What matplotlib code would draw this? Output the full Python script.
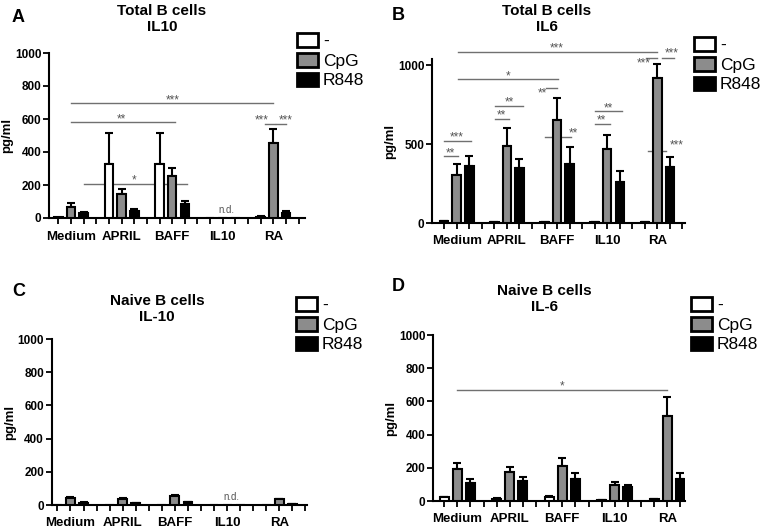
import numpy as np
import matplotlib
matplotlib.use("Agg")
import matplotlib.pyplot as plt
from matplotlib.patches import Patch


plt.rcParams["font.family"] = ["Liberation Sans", "DejaVu Sans"]

groups = ["Medium", "APRIL", "BAFF", "IL10", "RA"]
stims = ["-", "CpG", "R848"]
colors = ["white", "#8c8c8c", "black"]

# mean and upper error per group, order: -, CpG, R848
a_mean = [[4, 66, 30], [326, 145, 44], [326, 255, 85], [0, 0, 0], [8, 457, 30]]
a_err = [[0, 22, 8], [191, 30, 10], [187, 51, 20], [0, 0, 0], [2, 84, 10]]
b_mean = [[10, 305, 358], [5, 488, 347], [5, 653, 373], [8, 469, 261], [5, 920, 352]]
b_err = [[2, 68, 63], [1, 112, 57], [1, 136, 111], [1, 89, 70], [1, 86, 65]]
c_mean = [[0, 44, 14], [0, 38, 12], [0, 54, 18], [0, 0, 0], [0, 34, 8]]
c_err = [[0, 4, 2], [0, 4, 2], [0, 4, 2], [0, 0, 0], [0, 4, 1]]
d_mean = [[22, 191, 108], [14, 177, 121], [24, 211, 131], [8, 97, 85], [14, 513, 135]]
d_err = [[2, 40, 27], [2, 28, 26], [4, 47, 40], [1, 18, 10], [1, 115, 36]]

# significance: (x1, x2, line y, label, label x, label y)
a_sig = [(1, 17, 694, "***", 9, 712), (1, 9.2, 583, "**", 5, 600),
         (2, 10.2, 207, "*", 6, 225), (16.3, 17.1, 567, "", 0, 0),
         (17.2, 18.0, 567, "", 0, 0), (0, 0, 0, "***", 16.1, 590),
         (0, 0, 0, "***", 18.0, 590)]
b_sig = [(1.1, 17.0, 1084, "***", 9, 1104), (1.1, 9.1, 909, "*", 5.1, 930),
         (0, 1.1, 421, "**", 0.5, 440), (0, 2.1, 522, "***", 1.0, 542),
         (4.07, 5.2, 659, "**", 4.6, 678), (4.07, 6.25, 741, "**", 5.2, 760),
         (8.1, 9.0, 853, "**", 7.8, 820), (8.0, 10.1, 547, "**", 10.3, 565),
         (12, 13.2, 627, "**", 12.5, 646), (12, 14.2, 709, "**", 13.1, 727),
         (16.1, 17.0, 1044, "***", 15.9, 1010), (17.4, 18.3, 1044, "***", 18.1, 1076),
         (16.25, 17.7, 457, "***", 18.5, 490)]
d_sig = [(1, 17, 670, "*", 9, 690)]

fig = plt.figure(figsize=(7.6, 5.28), dpi=100)
W, H = 760, 528


def add_axes(x0, x1, y0, ytop):
    return fig.add_axes([x0 / W, (H - y0) / H, (x1 - x0) / W, (y0 - ytop) / H])


def draw_panel(ax, mean, err, xlim, ylim, yticks, sig, nd=False):
    mean = np.array(mean)
    err = np.array(err)
    for j in range(3):
        xs = np.arange(len(groups)) * 4 + j
        ax.bar(xs, mean[:, j], width=0.68, color=colors[j], edgecolor="black",
               linewidth=1.5, zorder=3)
        keep = err[:, j] > 0
        ax.errorbar(xs[keep], mean[keep, j], yerr=[np.zeros(keep.sum()), err[keep, j]],
                    fmt="none", ecolor="black", elinewidth=1.5, capsize=2.7,
                    capthick=1.5, zorder=2)
    ax.set_xlim(*xlim)
    ax.set_ylim(*ylim)
    ax.set_yticks(yticks)
    ax.set_xticks(np.arange(len(groups)) * 4 + 1, groups)
    ax.set_xticks(range(20) if xlim[1] > 19 else range(19), minor=True)
    ax.tick_params(axis="x", which="both", length=4, width=1.3)
    ax.tick_params(axis="x", which="major", pad=5, labelsize=9.5)
    ax.tick_params(axis="y", length=4, width=1.3, labelsize=8.5, pad=1.5)
    for lab in ax.get_xticklabels() + ax.get_yticklabels():
        lab.set_fontweight("bold")
    for s in ["top", "right"]:
        ax.spines[s].set_visible(False)
    for s in ["left", "bottom"]:
        ax.spines[s].set_linewidth(1.5)
    ax.set_ylabel("pg/ml", fontsize=9.5, fontweight="bold")
    ax.yaxis.set_label_coords(-36 / (ax.get_position().width * W), 0.5)
    for x1, x2, y, lab, lx, ly in sig:
        if x2 > x1:
            ax.plot([x1, x2], [y, y], color="#707070", lw=1, clip_on=False)
        if lab:
            ax.text(lx, ly, lab, ha="center", va="center", fontsize=8.5,
                    color="#555555", clip_on=False)
    if nd:
        ax.text(13.3, 50, "n.d.", ha="center", va="center", fontsize=7,
                color="#555555")


def draw_legend(x, ytop):
    handles = [Patch(facecolor=c, edgecolor="black", linewidth=2) for c in colors]
    fig.legend(handles, stims, loc="upper left", bbox_to_anchor=(x / W, (H - ytop) / H),
               frameon=False, fontsize=12.5, handlelength=1.2, handleheight=0.85,
               handletextpad=0.3, labelspacing=0.22, borderpad=0, borderaxespad=0)


axA = add_axes(49, 305, 218, 53)
draw_panel(axA, a_mean, a_err, (-0.74, 19.5), (0, 1000), [0, 200, 400, 600, 800, 1000],
           a_sig, nd=True)
axB = add_axes(432, 685, 223, 59)
draw_panel(axB, b_mean, b_err, (-0.97, 19.2), (0, 1038), [0, 500, 1000], b_sig)
axC = add_axes(51.7, 306.7, 505, 339)
draw_panel(axC, c_mean, c_err, (-0.44, 19.1), (0, 1000), [0, 200, 400, 600, 800, 1000],
           [], nd=True)
axD = add_axes(433, 685, 501, 335)
draw_panel(axD, d_mean, d_err, (-0.85, 18.35), (0, 1000), [0, 200, 400, 600, 800, 1000],
           d_sig)

titles = [("Total B cells\nIL10", 162, 4), ("Total B cells\nIL6", 547, 4),
          ("Naive B cells\nIL-10", 157, 294), ("Naive B cells\nIL-6", 544, 284)]
for t, x, y in titles:
    fig.text(x / W, (H - y) / H, t, ha="center", va="top", fontsize=11,
             fontweight="bold", linespacing=1.15)

letters = [("A", 12, 9), ("B", 392, 7), ("C", 12, 283), ("D", 392, 278)]
for t, x, y in letters:
    fig.text(x / W, (H - y) / H, t, ha="left", va="top", fontsize=13, fontweight="bold")

draw_legend(297, 33)
draw_legend(694, 37)
draw_legend(296, 297)
draw_legend(691, 297)

fig.savefig("out.png", dpi=100)
